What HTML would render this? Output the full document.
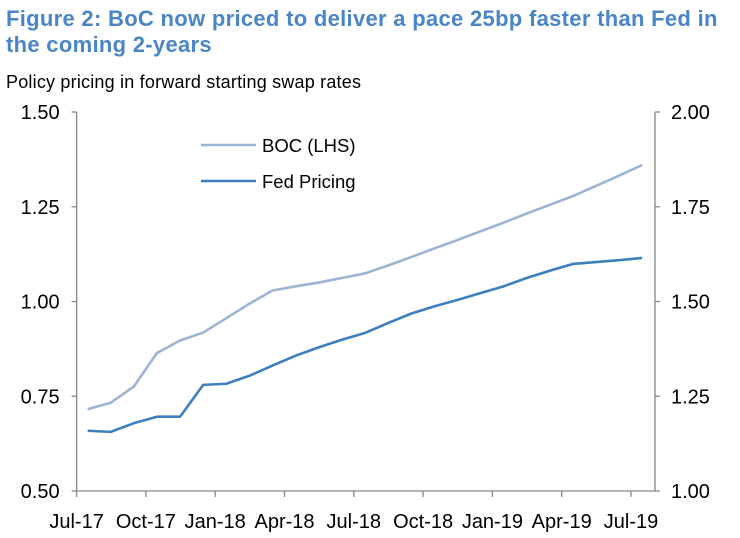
<!DOCTYPE html>
<html><head><meta charset="utf-8"><style>
body{margin:0;background:#fff;width:740px;height:538px;overflow:hidden;font-family:"Liberation Sans",Arial,sans-serif}
.t{position:absolute;left:6px;top:6px;color:#4a86c5;font-weight:bold;font-size:22px;line-height:26px;letter-spacing:0.3px}
.s{position:absolute;left:6px;top:72px;font-size:18px;color:#000;letter-spacing:0.2px}
svg{position:absolute;left:0;top:0}
</style></head><body>
<div class="t">Figure 2: BoC now priced to deliver a pace 25bp faster than Fed in<br>the coming 2-years</div>
<div class="s">Policy pricing in forward starting swap rates</div>
<svg id="c" width="740" height="538"></svg>
<script>
const xTicks=["Jul-17","Oct-17","Jan-18","Apr-18","Jul-18","Oct-18","Jan-19","Apr-19","Jul-19"];
const leftTicks=[0.50,0.75,1.00,1.25,1.50];
const rightTicks=[1.00,1.25,1.50,1.75,2.00];
const boc=[0.716,0.733,0.776,0.864,0.897,0.918,0.956,0.994,1.029,1.040,1.050,1.062,1.074,1.095,1.117,1.140,1.162,1.185,1.208,1.232,1.255,1.278,1.305,1.332,1.360];
const fed=[1.159,1.156,1.179,1.196,1.196,1.280,1.283,1.304,1.331,1.357,1.379,1.399,1.417,1.443,1.468,1.487,1.504,1.522,1.540,1.562,1.581,1.599,1.604,1.609,1.615];
const NS="http://www.w3.org/2000/svg",svg=document.getElementById('c');
const L=76.6,R=655,T=112,B=491;
const xm=m=>L+(631-L)*m/24;
const yl=v=>B-(v-0.5)/1.0*(B-T);
const yr=v=>B-(v-1.0)/1.0*(B-T);
function el(t,a,p){const e=document.createElementNS(NS,t);for(const k in a)e.setAttribute(k,a[k]);(p||svg).appendChild(e);return e;}
let e=el('line',{x1:L,y1:T,x2:L,y2:B,stroke:'#888','stroke-width':1.3});

e=el('line',{x1:R,y1:T,x2:R,y2:B,stroke:'#888','stroke-width':1.3});

e=el('line',{x1:L,y1:B,x2:R,y2:B,stroke:'#888','stroke-width':1.3});

leftTicks.forEach(v=>{const y=yl(v);el('line',{x1:L-5,y1:y,x2:L,y2:y,stroke:'#888','stroke-width':1.3});
const t=el('text',{x:L-17,y:y+7,'text-anchor':'end','font-size':20});t.textContent=v.toFixed(2);
});
rightTicks.forEach(v=>{const y=yr(v);el('line',{x1:R,y1:y,x2:R+5,y2:y,stroke:'#888','stroke-width':1.3});
const t=el('text',{x:R+16,y:y+7,'font-size':20});t.textContent=v.toFixed(2);
});
xTicks.forEach((s,i)=>{const x=xm(i*3);el('line',{x1:x,y1:B,x2:x,y2:B+6,stroke:'#888','stroke-width':1.3});
const t=el('text',{x:x,y:B+37,'text-anchor':'middle','font-size':20});t.textContent=s;
});
function line(d,f,c,n){const p=el('polyline',{points:d.map((v,i)=>xm(0.48+i)+','+f(v)).join(' '),fill:'none',stroke:c,'stroke-width':2.6,'stroke-linejoin':'round'});
}
line(boc,yl,'#9db4d4','boc-line');
line(fed,yr,'#3e7fbe','fed-line');
e=el('line',{x1:201,y1:145,x2:256,y2:145,stroke:'#9db4d4','stroke-width':2.6});

e=el('text',{x:262,y:152,'font-size':18.5});e.textContent='BOC (LHS)';

e=el('line',{x1:201,y1:181,x2:256,y2:181,stroke:'#3e7fbe','stroke-width':2.6});

e=el('text',{x:262,y:188,'font-size':18.5});e.textContent='Fed Pricing';

</script>
</body></html>
